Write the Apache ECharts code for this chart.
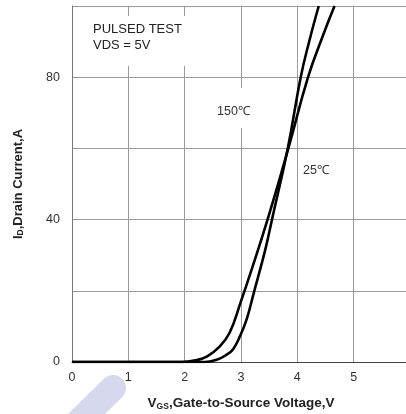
<!DOCTYPE html>
<html>
<head>
<meta charset="utf-8">
<script src="https://cdn.jsdelivr.net/npm/echarts@6/dist/echarts.min.js"></script>
<style>
  html, body { margin: 0; padding: 0; background: #fff; }
  #chart { width: 406px; height: 414px; }
</style>
</head>
<body>
<div id="chart"></div>
<script>
// VGS (V), ID (A)
const curve150 = [
  [0, 0], [1.95, 0], [2.2, 0.5], [2.4, 1.6], [2.62, 4.3], [2.8, 8.3],
  [2.99, 16.6], [3.21, 27], [3.49, 41], [3.84, 60], [4.19, 80],
  [4.45, 91.5], [4.66, 100]
];
const curve25 = [
  [0, 0], [2.35, 0], [2.58, 0.7], [2.74, 2], [2.86, 3.6], [2.98, 7.2],
  [3.1, 12], [3.22, 19], [3.43, 31.5], [3.55, 40], [3.83, 60], [4.06, 80],
  [4.21, 90], [4.38, 100]
];
const xTicks = [0, 1, 2, 3, 4, 5];
const yTicks = [0, 40, 80];

const chart = echarts.init(document.getElementById('chart'), null, { renderer: 'canvas' });

const font = 'Liberation Sans, Arial, sans-serif';
const gridColor = '#9a9a9a';

const lineStyle = { color: '#000', width: 2.6 };

const option = {
  backgroundColor: '#fff',
  animation: false,
  grid: { left: 72, top: 6, width: 338, height: 356, containLabel: false, outerBoundsMode: 'none' },
  xAxis: {
    type: 'value',
    min: 0,
    max: 6,
    interval: 1,
    axisLine: { show: true, lineStyle: { color: '#444', width: 1 } },
    axisTick: { show: false },
    splitLine: { show: true, lineStyle: { color: gridColor, width: 1 } },
    axisLabel: {
      margin: 9,
      fontSize: 12.5,
      fontFamily: font,
      color: '#333',
      formatter: v => (xTicks.includes(v) ? String(v) : '')
    },
    name: '{b|V}{s|GS}{b|,Gate-to-Source Voltage,V}',
    nameLocation: 'middle',
    nameGap: 33,
    nameTextStyle: {
      rich: {
        b: { fontSize: 13.5, fontWeight: 'bold', fontFamily: font, color: '#222', lineHeight: 16 },
        s: { fontSize: 8.5, fontWeight: 'bold', fontFamily: font, color: '#222', lineHeight: 16, verticalAlign: 'bottom', padding: [6, 0, 0, 0] }
      }
    }
  },
  yAxis: {
    type: 'value',
    min: 0,
    max: 100,
    interval: 20,
    axisLine: { show: true, lineStyle: { color: '#777', width: 1 } },
    axisTick: { show: false },
    splitLine: { show: true, lineStyle: { color: gridColor, width: 1 } },
    axisLabel: {
      margin: 12,
      fontSize: 12.5,
      fontFamily: font,
      color: '#333',
      formatter: v => (yTicks.includes(v) ? String(v) : '')
    }
  },
  graphic: [
    { type: 'rect', shape: { x: 86, y: 16, width: 106, height: 50 }, style: { fill: '#fff' }, z: 10 },
    { type: 'text', left: 93, top: 21, z: 11,
      style: { text: 'PULSED TEST\nVDS = 5V', font: '13px ' + font, fill: '#222', lineHeight: 16 } },
    { type: 'rect', shape: { x: 214, y: 88, width: 42, height: 40 }, style: { fill: '#fff' }, z: 10 },
    { type: 'text', left: 217, top: 105, z: 11,
      style: { text: '150℃', font: '12.5px ' + font, fill: '#333' } },
    { type: 'text', left: 303, top: 164, z: 11,
      style: { text: '25℃', font: '12.5px ' + font, fill: '#333' } },
    { type: 'text', z: 11, x: 18, y: 184, rotation: Math.PI / 2,
      style: {
        text: '{b|I}{s|D}{b|,Drain Current,A}',
        align: 'center', verticalAlign: 'middle',
        rich: {
          b: { fontSize: 13, fontWeight: 'bold', fontFamily: font, fill: '#222', lineHeight: 15 },
          s: { fontSize: 8.5, fontWeight: 'bold', fontFamily: font, fill: '#222', lineHeight: 15, verticalAlign: 'bottom', padding: [5, 0, 0, 0] }
        }
      } },
    { type: 'line', z: 1, shape: { x1: 113, y1: 388, x2: 58, y2: 442 },
      style: { stroke: '#d6d8ee', lineWidth: 26, lineCap: 'round' } }
  ],
  series: [
    {
      name: '150℃',
      type: 'line',
      data: curve150,
      showSymbol: false,
      smooth: 0.45,
      lineStyle: lineStyle,
      z: 5
    },
    {
      name: '25℃',
      type: 'line',
      data: curve25,
      showSymbol: false,
      smooth: 0.45,
      lineStyle: lineStyle,
      z: 5
    }
  ]
};

chart.setOption(option);
</script>
</body>
</html>
